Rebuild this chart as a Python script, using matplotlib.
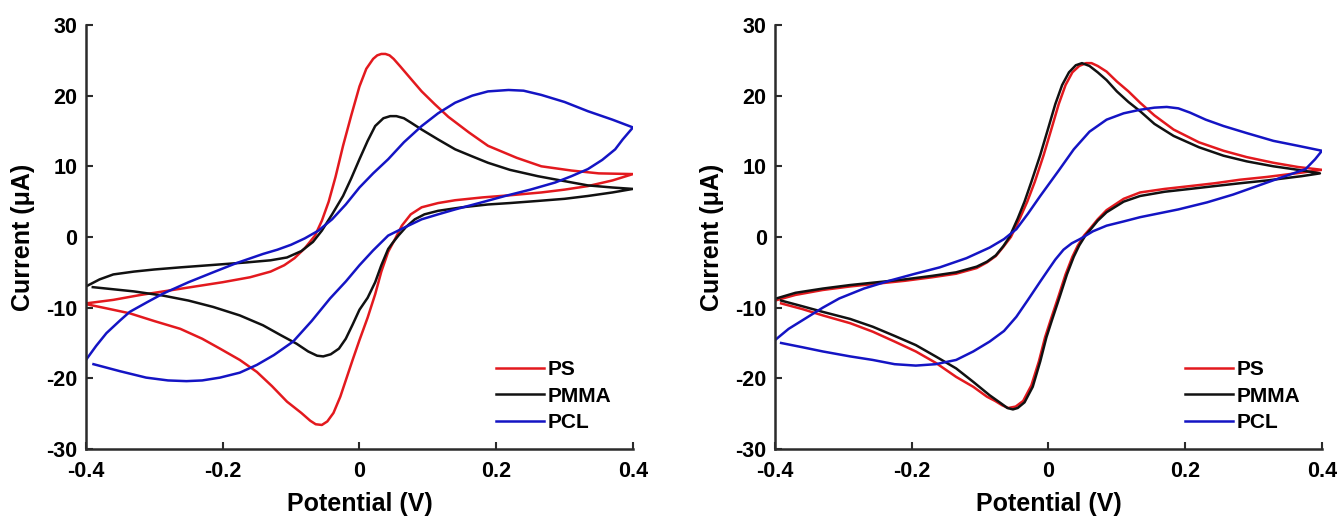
import matplotlib

matplotlib.use("Agg")
import matplotlib.pyplot as plt

plt.rcParams["font.family"] = ["Liberation Sans", "DejaVu Sans"]
plt.rcParams["font.weight"] = "bold"

# ---- panel A: cyclic voltammograms, forward then reverse sweep ----
a_ps_v = [-0.400, -0.360, -0.320, -0.280, -0.240, -0.200, -0.160, -0.130, -0.110, -0.095, -0.080,
          -0.065, -0.055, -0.045, -0.035, -0.024, -0.012, 0.000, 0.010, 0.020, 0.026, 0.032, 0.038,
          0.044, 0.050, 0.060, 0.075, 0.091, 0.110, 0.130, 0.160, 0.188, 0.230, 0.266, 0.310, 0.350, 0.400,
          0.370, 0.334, 0.300, 0.266, 0.220, 0.180, 0.140, 0.115, 0.091, 0.075, 0.062, 0.052, 0.042,
          0.032, 0.023, 0.012, 0.000, -0.010, -0.019, -0.028, -0.038, -0.047, -0.055, -0.064, -0.072,
          -0.085, -0.106, -0.128, -0.150, -0.175, -0.204, -0.230, -0.262, -0.300, -0.336, -0.370, -0.400]
a_ps_i = [-9.4, -8.9, -8.2, -7.6, -7.0, -6.4, -5.7, -4.9, -4.0, -3.0, -1.6,
          0.2, 2.3, 5.0, 8.5, 12.9, 17.2, 21.3, 23.8, 25.2, 25.7, 25.9, 25.9,
          25.7, 25.2, 24.1, 22.4, 20.6, 18.8, 17.0, 14.8, 12.9, 11.2, 10.0, 9.4, 9.0, 8.9,
          8.0, 7.2, 6.7, 6.3, 5.9, 5.6, 5.2, 4.8, 4.2, 3.2, 1.6, -0.3, -2.1,
          -4.9, -8.1, -11.4, -14.6, -17.4, -20.0, -22.6, -24.9, -26.1, -26.6, -26.5, -26.0,
          -24.9, -23.3, -21.1, -19.1, -17.4, -15.8, -14.4, -13.0, -11.9, -10.8, -10.1, -9.5]

a_pmma_v = [-0.400, -0.380, -0.360, -0.330, -0.300, -0.262, -0.220, -0.165, -0.130, -0.106, -0.085,
            -0.068, -0.055, -0.040, -0.024, -0.012, 0.000, 0.012, 0.023, 0.035, 0.045, 0.054, 0.065,
            0.075, 0.091, 0.115, 0.140, 0.165, 0.188, 0.220, 0.261, 0.300, 0.334, 0.370, 0.400,
            0.370, 0.334, 0.300, 0.261, 0.220, 0.188, 0.150, 0.115, 0.095, 0.081, 0.068, 0.057, 0.048,
            0.042, 0.032, 0.023, 0.012, 0.000, -0.010, -0.020, -0.030, -0.042, -0.053, -0.062, -0.075,
            -0.092, -0.115, -0.141, -0.175, -0.214, -0.250, -0.287, -0.330, -0.370, -0.390]
a_pmma_i = [-7.0, -6.0, -5.3, -4.9, -4.6, -4.3, -4.0, -3.6, -3.3, -2.9, -2.0,
            -0.7, 0.9, 3.2, 5.8, 8.3, 11.0, 13.6, 15.7, 16.8, 17.1, 17.1, 16.8,
            16.2, 15.2, 13.8, 12.4, 11.4, 10.5, 9.5, 8.6, 7.9, 7.3, 7.0, 6.8,
            6.3, 5.8, 5.4, 5.1, 4.8, 4.6, 4.2, 3.7, 3.2, 2.5, 1.4, 0.2, -0.9,
            -1.7, -4.0, -6.4, -8.6, -10.3, -12.4, -14.4, -15.8, -16.6, -16.9, -16.8, -16.2,
            -15.1, -13.9, -12.5, -11.1, -9.9, -9.0, -8.3, -7.7, -7.3, -7.1]

a_pcl_v = [-0.400, -0.385, -0.370, -0.350, -0.336, -0.310, -0.287, -0.250, -0.214, -0.180, -0.141,
           -0.120, -0.100, -0.080, -0.060, -0.040, -0.020, 0.000, 0.020, 0.042, 0.065, 0.091, 0.115,
           0.140, 0.165, 0.188, 0.218, 0.240, 0.266, 0.300, 0.334, 0.370, 0.400,
           0.385, 0.374, 0.355, 0.334, 0.310, 0.286, 0.250, 0.213, 0.175, 0.140, 0.115, 0.091, 0.065,
           0.042, 0.020, 0.000, -0.020, -0.043, -0.070, -0.097, -0.125, -0.150, -0.175, -0.204, -0.230,
           -0.253, -0.280, -0.312, -0.350, -0.389]
a_pcl_i = [-17.4, -15.4, -13.6, -11.8, -10.6, -9.2, -8.0, -6.4, -5.0, -3.7, -2.4,
           -1.8, -1.1, -0.2, 0.9, 2.5, 4.6, 7.0, 9.0, 11.0, 13.4, 15.7, 17.5,
           19.0, 20.0, 20.6, 20.8, 20.7, 20.1, 19.1, 17.8, 16.6, 15.5,
           13.8, 12.4, 10.9, 9.6, 8.6, 7.7, 6.7, 5.8, 4.8, 3.9, 3.2, 2.5, 1.3,
           0.2, -1.9, -4.0, -6.3, -8.7, -11.9, -14.8, -16.7, -18.1, -19.2, -19.9, -20.3,
           -20.4, -20.3, -19.9, -19.0, -18.0]

# ---- panel B ----
b_ps_v = [-0.400, -0.370, -0.330, -0.290, -0.250, -0.210, -0.170, -0.135, -0.105, -0.090, -0.077,
          -0.066, -0.055, -0.042, -0.031, -0.020, -0.007, 0.005, 0.015, 0.025, 0.035, 0.045, 0.055,
          0.063, 0.072, 0.085, 0.100, 0.117, 0.134, 0.155, 0.183, 0.220, 0.256, 0.290, 0.329, 0.365, 0.400,
          0.370, 0.353, 0.320, 0.280, 0.243, 0.207, 0.170, 0.134, 0.110, 0.085, 0.072, 0.061, 0.052,
          0.043, 0.035, 0.025, 0.015, 0.003, -0.005, -0.014, -0.025, -0.037, -0.048, -0.059, -0.068,
          -0.078, -0.090, -0.110, -0.135, -0.165, -0.194, -0.225, -0.257, -0.290, -0.330, -0.360, -0.391]
b_ps_i = [-9.0, -8.2, -7.5, -7.0, -6.6, -6.2, -5.7, -5.2, -4.4, -3.6, -2.7,
          -1.4, 0.0, 2.6, 5.0, 7.8, 11.6, 15.5, 18.8, 21.5, 23.3, 24.2, 24.6,
          24.6, 24.2, 23.4, 22.0, 20.6, 19.0, 17.2, 15.2, 13.4, 12.2, 11.3, 10.5, 9.9, 9.5,
          9.1, 8.9, 8.5, 8.1, 7.6, 7.2, 6.8, 6.3, 5.4, 3.8, 2.5, 1.2, 0.2,
          -1.2, -2.8, -5.3, -8.3, -11.8, -14.2, -17.6, -21.0, -23.2, -24.0, -24.2, -23.8,
          -23.2, -22.6, -21.2, -19.8, -17.8, -16.2, -14.8, -13.4, -12.2, -11.1, -10.2, -9.4]

b_pmma_v = [-0.398, -0.370, -0.330, -0.290, -0.250, -0.210, -0.170, -0.135, -0.105, -0.090, -0.077,
            -0.066, -0.057, -0.045, -0.035, -0.025, -0.012, 0.000, 0.010, 0.020, 0.030, 0.040, 0.049,
            0.060, 0.072, 0.085, 0.100, 0.117, 0.134, 0.155, 0.183, 0.220, 0.256, 0.290, 0.329, 0.365, 0.397,
            0.370, 0.353, 0.320, 0.280, 0.243, 0.207, 0.170, 0.134, 0.110, 0.085, 0.072, 0.061, 0.054,
            0.045, 0.037, 0.027, 0.017, 0.005, -0.003, -0.012, -0.023, -0.035, -0.045, -0.052, -0.060,
            -0.070, -0.086, -0.110, -0.135, -0.165, -0.194, -0.225, -0.257, -0.290, -0.330, -0.360, -0.391]
b_pmma_i = [-8.7, -7.9, -7.3, -6.8, -6.4, -6.0, -5.5, -5.0, -4.2, -3.5, -2.6,
            -1.3, 0.0, 2.6, 5.0, 7.8, 11.6, 15.5, 18.8, 21.5, 23.3, 24.3, 24.6,
            24.2, 23.3, 22.2, 20.6, 19.1, 17.8, 16.0, 14.3, 12.7, 11.5, 10.7, 10.0, 9.5, 9.0,
            8.6, 8.4, 8.0, 7.6, 7.2, 6.8, 6.4, 5.8, 5.0, 3.5, 2.3, 1.0, 0.2,
            -1.2, -2.8, -5.3, -8.3, -11.8, -14.2, -17.6, -21.2, -23.4, -24.2, -24.4, -24.2,
            -23.5, -22.4, -20.5, -18.6, -16.9, -15.3, -14.0, -12.7, -11.6, -10.6, -9.8, -9.0]

b_pcl_v = [-0.400, -0.380, -0.355, -0.330, -0.306, -0.270, -0.233, -0.195, -0.159, -0.120, -0.086,
           -0.065, -0.047, -0.030, -0.012, 0.000, 0.015, 0.037, 0.060, 0.085, 0.110, 0.134, 0.155,
           0.173, 0.190, 0.207, 0.230, 0.256, 0.290, 0.329, 0.365, 0.400,
           0.390, 0.376, 0.340, 0.305, 0.270, 0.232, 0.190, 0.134, 0.110, 0.085, 0.065, 0.046,
           0.034, 0.022, 0.010, 0.000, -0.012, -0.030, -0.047, -0.065, -0.086, -0.110, -0.135, -0.165,
           -0.194, -0.225, -0.257, -0.290, -0.330, -0.360, -0.391]
b_pcl_i = [-14.6, -13.0, -11.5, -10.0, -8.7, -7.3, -6.2, -5.2, -4.3, -3.0, -1.5,
           -0.3, 1.1, 3.3, 5.8, 7.4, 9.4, 12.4, 14.9, 16.6, 17.5, 18.0, 18.3,
           18.4, 18.2, 17.6, 16.6, 15.7, 14.7, 13.6, 12.9, 12.2,
           11.0, 9.6, 8.4, 7.2, 6.0, 4.9, 3.9, 2.8, 2.2, 1.6, 0.8, -0.3,
           -0.9, -1.8, -3.2, -4.6, -6.3, -8.9, -11.3, -13.3, -14.8, -16.2, -17.4, -18.0,
           -18.2, -18.0, -17.4, -16.9, -16.2, -15.6, -15.0]

labels = ["PS", "PMMA", "PCL"]
colors = ["#e3191e", "#111111", "#1414c4"]
x_ticks = [-0.4, -0.2, 0, 0.2, 0.4]
x_ticklabels = ["-0.4", "-0.2", "0", "0.2", "0.4"]
y_ticks = [-30, -20, -10, 0, 10, 20, 30]
y_ticklabels = ["-30", "-20", "-10", "0", "10", "20", "30"]

panels = [
    [(a_ps_v, a_ps_i), (a_pmma_v, a_pmma_i), (a_pcl_v, a_pcl_i)],
    [(b_ps_v, b_ps_i), (b_pmma_v, b_pmma_i), (b_pcl_v, b_pcl_i)],
]

fig = plt.figure(figsize=(13.41, 5.19), dpi=100)
positions = [[0.0641, 0.1349, 0.4079, 0.8170], [0.5779, 0.1349, 0.4079, 0.8170]]

for pos, curves in zip(positions, panels):
    ax = fig.add_axes(pos)
    for (v, i), lab, col in zip(curves, labels, colors):
        ax.plot(v, i, color=col, lw=1.8, label=lab, solid_joinstyle="round")

    ax.set_xlim(-0.4, 0.4)
    ax.set_ylim(-30, 30)
    ax.set_xticks(x_ticks)
    ax.set_xticklabels(x_ticklabels)
    ax.set_yticks(y_ticks)
    ax.set_yticklabels(y_ticklabels)
    for side in ["top", "right"]:
        ax.spines[side].set_visible(False)
    for side in ["left", "bottom"]:
        ax.spines[side].set_linewidth(1.8)
        ax.spines[side].set_color("#2b2b2b")
    ax.tick_params(direction="in", length=5, width=1.5, color="#2b2b2b", labelsize=15.5)
    ax.tick_params(axis="x", pad=9)
    ax.tick_params(axis="y", pad=6)

    ax.set_xlabel("Potential (V)", fontsize=18, fontweight="bold", labelpad=7)
    ax.set_ylabel("Current (μA)", fontsize=18, fontweight="bold", labelpad=8)

    ax.legend(loc="lower left", bbox_to_anchor=(0.75, 0.039), frameon=False,
              fontsize=15, handlelength=2.3, handletextpad=0.15, labelspacing=0.37,
              borderpad=0, borderaxespad=0)

fig.savefig("out.png", dpi=100)
